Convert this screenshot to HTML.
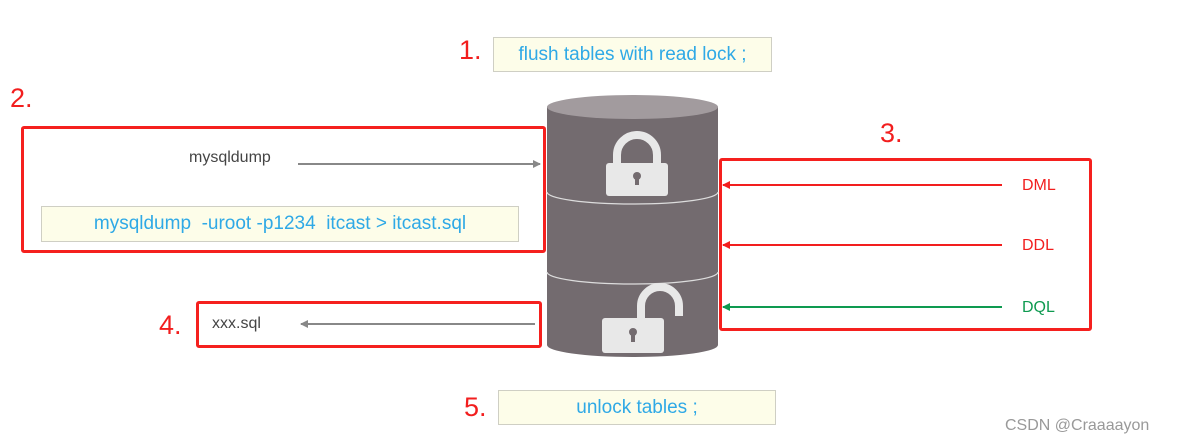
<!DOCTYPE html>
<html><head><style>
body{margin:0;width:1195px;height:445px;background:#fff;position:relative;overflow:hidden;font-family:"Liberation Sans",sans-serif}
.a{position:absolute}
.num{color:#f21e1e;font-size:27px}
.rb{border:3px solid #f5201e;border-radius:3px;box-sizing:border-box}
.yb{background:#fdfde9;border:1px solid #cfcfc4;box-sizing:border-box;color:#2fa9e6;font-size:19px;text-align:center}
.g{color:#444;font-size:16px}
</style></head><body>
<div class="a num" style="left:459px;top:35px">1.</div>
<div class="a yb" style="left:493px;top:37px;width:279px;height:35px;line-height:33px">flush tables with read lock ;</div>
<div class="a num" style="left:10px;top:83px">2.</div>
<div class="a rb" style="left:21px;top:126px;width:525px;height:127px"></div>
<div class="a g" style="left:189px;top:149px">mysqldump</div>
<div class="a yb" style="left:41px;top:206px;width:478px;height:36px;line-height:34px">mysqldump&nbsp; -uroot -p1234&nbsp; itcast &gt; itcast.sql</div>
<div class="a num" style="left:880px;top:118px">3.</div>
<div class="a rb" style="left:719px;top:158px;width:373px;height:173px"></div>
<div class="a num" style="left:159px;top:310px">4.</div>
<div class="a rb" style="left:196px;top:301px;width:346px;height:47px"></div>
<div class="a g" style="left:212px;top:315px">xxx.sql</div>
<div class="a num" style="left:464px;top:392px">5.</div>
<div class="a yb" style="left:498px;top:390px;width:278px;height:35px;line-height:33px">unlock tables ;</div>
<div class="a" style="left:1022px;top:177px;color:#f21e1e;font-size:16px">DML</div>
<div class="a" style="left:1022px;top:237px;color:#f21e1e;font-size:16px">DDL</div>
<div class="a" style="left:1022px;top:299px;color:#0e9a50;font-size:16px">DQL</div>
<div class="a" style="left:1005px;top:417px;color:#999;font-size:16px">CSDN @Craaaayon</div>
<svg class="a" style="left:0;top:0" width="1195" height="445">
<defs>
<marker id="ag" markerWidth="8" markerHeight="8" refX="7" refY="4" orient="auto" markerUnits="userSpaceOnUse"><path d="M0,0L8,4L0,8z" fill="#888"/></marker>
<marker id="ar" markerWidth="8" markerHeight="8" refX="7" refY="4" orient="auto" markerUnits="userSpaceOnUse"><path d="M0,0L8,4L0,8z" fill="#f21e1e"/></marker>
<marker id="an" markerWidth="8" markerHeight="8" refX="7" refY="4" orient="auto" markerUnits="userSpaceOnUse"><path d="M0,0L8,4L0,8z" fill="#0e9a50"/></marker>
</defs>
<line x1="298" y1="164" x2="540" y2="164" stroke="#888" stroke-width="2" marker-end="url(#ag)"/>
<line x1="535" y1="324" x2="301" y2="324" stroke="#888" stroke-width="2" marker-end="url(#ag)"/>
<line x1="1002" y1="185" x2="723" y2="185" stroke="#f21e1e" stroke-width="2" marker-end="url(#ar)"/>
<line x1="1002" y1="245" x2="723" y2="245" stroke="#f21e1e" stroke-width="2" marker-end="url(#ar)"/>
<line x1="1002" y1="307" x2="723" y2="307" stroke="#0e9a50" stroke-width="2" marker-end="url(#an)"/>
<path d="M547,107 L547,345 A85.5,12 0 0 0 718,345 L718,107 Z" fill="#736b6f"/>
<ellipse cx="632.5" cy="107" rx="85.5" ry="12" fill="#a29b9e"/>
<path d="M547,192 A85.5,12 0 0 0 718,192" fill="none" stroke="#ddd" stroke-width="1.2"/>
<path d="M547,272 A85.5,12 0 0 0 718,272" fill="none" stroke="#ddd" stroke-width="1.2"/>
<path d="M617,168 L617,155 A20,20 0 0 1 657,155 L657,168" fill="none" stroke="#e8e8e8" stroke-width="8"/>
<rect x="606" y="163" width="62" height="33" rx="3" fill="#e8e8e8"/>
<circle cx="637" cy="176" r="4" fill="#736b6f"/><rect x="635" y="176" width="4" height="9" fill="#736b6f"/>
<path d="M641,318 L641,306 A19,19 0 0 1 679,306 L679,316" fill="none" stroke="#e8e8e8" stroke-width="8"/>
<rect x="602" y="318" width="62" height="35" rx="3" fill="#e8e8e8"/>
<circle cx="633" cy="332" r="4" fill="#736b6f"/><rect x="631" y="332" width="4" height="10" fill="#736b6f"/>
</svg>
</body></html>
